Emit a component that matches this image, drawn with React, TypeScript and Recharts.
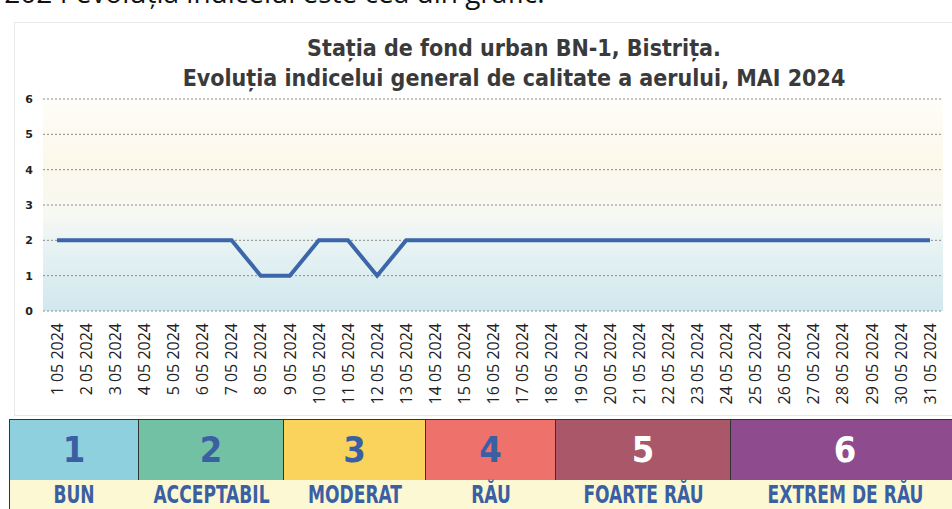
import React from "react";
import {
  LineChart,
  Line,
  XAxis,
  YAxis,
  CartesianGrid,
} from "recharts";

const days: string[] = [
  "1 05 2024", "2 05 2024", "3 05 2024", "4 05 2024", "5 05 2024", "6 05 2024",
  "7 05 2024", "8 05 2024", "9 05 2024", "10 05 2024", "11 05 2024", "12 05 2024",
  "13 05 2024", "14 05 2024", "15 05 2024", "16 05 2024", "17 05 2024", "18 05 2024",
  "19 05 2024", "20 05 2024", "21 05 2024", "22 05 2024", "23 05 2024", "24 05 2024",
  "25 05 2024", "26 05 2024", "27 05 2024", "28 05 2024", "29 05 2024", "30 05 2024",
  "31 05 2024",
];

const indexValues: number[] = [
  2, 2, 2, 2, 2, 2, 2, 1, 1, 2, 2, 1, 2, 2, 2, 2, 2, 2, 2, 2, 2, 2, 2, 2, 2, 2, 2, 2, 2, 2, 2,
];

const yTicks: number[] = [0, 1, 2, 3, 4, 5, 6];

const legendNumbers: string[] = ["1", "2", "3", "4", "5", "6"];
const legendLabels: string[] = ["BUN", "ACCEPTABIL", "MODERAT", "RĂU", "FOARTE RĂU", "EXTREM DE RĂU"];
const legendColors: string[] = ["#8fd0df", "#72c1a4", "#f9d35c", "#ee716b", "#aa5769", "#8e4b8e"];
const legendTextColors: string[] = ["#3b5fa3", "#3b5fa3", "#3b5fa3", "#3b5fa3", "#ffffff", "#ffffff"];
const legendEdges: number[] = [9, 139, 284, 426, 556, 731, 960];

const data = days.map((d, i) => ({ day: d, value: indexValues[i] }));

const DayTick = (props: any) => {
  const { x, y, payload } = props;
  return (
    <g transform={`translate(${x},${y + 4})`}>
      <text
        transform="rotate(-90)"
        textAnchor="end"
        dy="0.36em"
        fontFamily="'Open Sans', sans-serif"
        fontSize={16}
        fill="#222"
      >
        {payload.value}
      </text>
    </g>
  );
};

const App: React.FC = () => {
  return (
    <div
      style={{
        position: "fixed",
        left: 0,
        top: 0,
        width: 952,
        height: 509,
        overflow: "hidden",
        background: "#fff",
      }}
    >
      <div
        style={{
          position: "absolute",
          left: -10,
          top: -28,
          fontFamily: "'Open Sans', sans-serif",
          fontSize: 28,
          lineHeight: "40px",
          color: "#111",
          whiteSpace: "nowrap",
        }}
      >
        i 2024 evoluția indicelui este cea din grafic.
      </div>
      <div
        style={{
          position: "absolute",
          left: 14,
          top: 22,
          width: 945,
          height: 392,
          border: "1px solid #e8e8e8",
        }}
      />
      <div
        style={{
          position: "absolute",
          left: 0,
          top: 33,
          width: 1028,
          textAlign: "center",
          fontFamily: "'DejaVu Sans Condensed', 'DejaVu Sans', sans-serif",
          fontStretch: "condensed",
          fontWeight: 700,
          fontSize: 23,
          lineHeight: "30px",
          color: "#3a3a3a",
        }}
      >
        Stația de fond urban BN-1, Bistrița.
        <br />
        Evoluția indicelui general de calitate a aerului, MAI 2024
      </div>
      <div style={{ position: "absolute", left: 0, top: 0 }}>
        <LineChart
          width={952}
          height={416}
          data={data}
          margin={{ top: 99, right: 9, left: 0, bottom: 2 }}
        >
          <defs>
            <linearGradient id="bg" x1="0" y1="0" x2="0" y2="1">
              <stop offset="0%" stopColor="#fefdf8" />
              <stop offset="30%" stopColor="#fcf9ea" />
              <stop offset="55%" stopColor="#f7f8f3" />
              <stop offset="70%" stopColor="#e7f2f3" />
              <stop offset="100%" stopColor="#d0e8ee" />
            </linearGradient>
          </defs>
          <CartesianGrid
            vertical={false}
            strokeDasharray="2 2"
            stroke="#8a8a8a"
            fill="url(#bg)"
            fillOpacity={1}
          />
          <XAxis
            dataKey="day"
            interval={0}
            height={103}
            padding={{ left: 14, right: 13 }}
            tick={<DayTick />}
            tickLine={false}
            axisLine={false}
          />
          <YAxis
            domain={[0, 6]}
            ticks={yTicks}
            width={43}
            tickLine={false}
            axisLine={false}
            tick={{ fill: "#222", fontSize: 11, fontWeight: 700, fontFamily: "'DejaVu Sans', sans-serif" }}
            tickMargin={4}
          />
          <Line
            type="linear"
            dataKey="value"
            stroke="#3b66a9"
            strokeWidth={4}
            dot={false}
            isAnimationActive={false}
          />
        </LineChart>
      </div>
      {legendNumbers.map((n, i) => (
        <div
          key={"n" + n}
          style={{
            position: "absolute",
            left: legendEdges[i] - (i === 0 ? 0 : 1),
            top: 419,
            width: legendEdges[i + 1] - legendEdges[i] + (i === 0 ? 0 : 1),
            height: 62,
            background: legendColors[i],
            border: "1px solid #333",
            boxSizing: "border-box",
            textAlign: "center",
            paddingTop: 9,
            fontFamily: "'DejaVu Sans Condensed', 'DejaVu Sans', sans-serif",
            fontStretch: "condensed",
            fontWeight: 700,
            fontSize: 36,
            lineHeight: "42px",
            color: legendTextColors[i],
          }}
        >
          {n}
        </div>
      ))}
      <div
        style={{
          position: "absolute",
          left: 9,
          top: 480,
          width: 960,
          height: 40,
          background: "#fbf8d3",
          border: "1px solid #333",
          borderTop: "none",
          boxSizing: "border-box",
        }}
      />
      {legendLabels.map((l, i) => (
        <div
          key={"l" + i}
          style={{
            position: "absolute",
            left: legendEdges[i],
            top: 483,
            width: legendEdges[i + 1] - legendEdges[i],
            textAlign: "center",
            fontFamily: "'DejaVu Sans Condensed', 'DejaVu Sans', sans-serif",
            fontStretch: "condensed",
            fontWeight: 700,
            fontSize: 19,
            lineHeight: "16px",
            color: "#3b5fa3",
            transform: "scaleY(1.35)",
            transformOrigin: "top center",
          }}
        >
          {l}
        </div>
      ))}
    </div>
  );
};

export default App;
